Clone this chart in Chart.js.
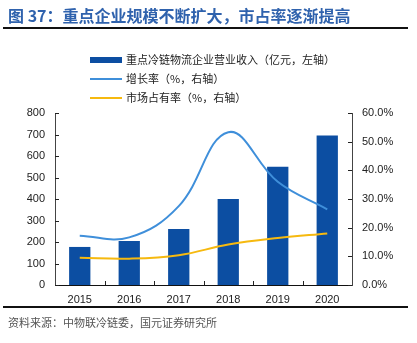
<!DOCTYPE html>
<html>
<head>
<meta charset="utf-8">
<script src="https://cdn.jsdelivr.net/npm/chart.js@4"></script>
<style>
  body { margin: 0; background: #fff; }
  #wrap { position: relative; width: 417px; height: 343px; overflow: hidden; font-family: "Noto Sans CJK SC", sans-serif; }
  #chartBox { position: absolute; left: 0; top: 0; width: 417px; height: 343px; }
  .title { position: absolute; left: 8px; top: 3px; font-size: 16px; font-weight: bold; color: #2f62ad; white-space: nowrap; }
  .rule { position: absolute; left: 3px; width: 405px; background: #111; }
  .legend { position: absolute; left: 90px; font-size: 11px; color: #222; white-space: nowrap; }
  .legend .item { position: absolute; left: 0; height: 14px; line-height: 14px; }
  .legend .sw { position: absolute; left: 0; width: 32px; }
  .legend .tx { position: absolute; left: 36px; top: -1px; }
  .source { position: absolute; left: 8px; top: 314px; font-size: 11px; color: #555; white-space: nowrap; }
</style>
</head>
<body>
<div id="wrap">
  <div id="chartBox"><canvas id="c" width="417" height="343"></canvas></div>
  <div class="title">图 37：重点企业规模不断扩大，市占率逐渐提高</div>
  <div class="rule" style="top:27px;height:2px"></div>
  <div class="legend" id="legend"></div>
  <div class="rule" style="top:306px;height:2px"></div>
  <div class="source">资料来源：中物联冷链委，国元证券研究所</div>
</div>
<script>
const years = ['2015', '2016', '2017', '2018', '2019', '2020'];
const revenue = [177, 205, 260, 400, 550, 695];          // 亿元, left axis
const growthRate = [17.2, 16.6, 27.5, 53.3, 36.0, 26.4];  // %, right axis
const marketShare = [9.5, 9.2, 10.4, 14.1, 16.4, 18.0];   // %, right axis
const seriesNames = ['重点冷链物流企业营业收入（亿元，左轴）', '增长率（%，右轴）', '市场占有率（%，右轴）'];

const barColor = '#0c4ea2';
const growthColor = '#3f8fda';
const shareColor = '#f6b90f';

// legend stacked vertically, like the original
const legend = document.getElementById('legend');
const legendRows = [
  { name: seriesNames[0], color: barColor, h: 6, top: 53 },
  { name: seriesNames[1], color: growthColor, h: 2, top: 72 },
  { name: seriesNames[2], color: shareColor, h: 2, top: 91 }
];
legendRows.forEach(r => {
  const it = document.createElement('div');
  it.className = 'item';
  it.style.top = r.top + 'px';
  it.innerHTML = '<div class="sw" style="background:' + r.color + ';height:' + r.h + 'px;top:' + (7 - r.h / 2) + 'px"></div><div class="tx">' + r.name + '</div>';
  legend.appendChild(it);
});

// small ticks pointing into the plot
const innerTicks = {
  id: 'innerTicks',
  afterDraw(chart) {
    const ctx = chart.ctx;
    const { y, y1, x } = chart.scales;
    ctx.save();
    ctx.strokeStyle = '#222';
    ctx.lineWidth = 1;
    ctx.beginPath();
    y.ticks.forEach(t => {
      const py = Math.round(y.getPixelForValue(t.value)) + 0.5;
      ctx.moveTo(y.right, py); ctx.lineTo(y.right + 4, py);
    });
    y1.ticks.forEach(t => {
      const py = Math.round(y1.getPixelForValue(t.value)) + 0.5;
      ctx.moveTo(y1.left, py); ctx.lineTo(y1.left - 4, py);
    });
    for (let i = 0; i < years.length - 1; i++) {
      const px = Math.round((x.getPixelForValue(i) + x.getPixelForValue(i + 1)) / 2) + 0.5;
      ctx.moveTo(px, x.top); ctx.lineTo(px, x.top - 4);
    }
    ctx.stroke();
    ctx.restore();
  }
};

const tickFont = { family: '"Liberation Sans", Arial, sans-serif', size: 11 };

new Chart(document.getElementById('c'), {
  data: {
    labels: years,
    datasets: [
      {
        type: 'line',
        label: seriesNames[1],
        data: growthRate,
        yAxisID: 'y1',
        borderColor: growthColor,
        borderWidth: 2,
        pointRadius: 0,
        tension: 0.4,
        order: 1
      },
      {
        type: 'line',
        label: seriesNames[2],
        data: marketShare,
        yAxisID: 'y1',
        borderColor: shareColor,
        borderWidth: 2,
        pointRadius: 0,
        tension: 0.4,
        order: 0
      },
      {
        type: 'bar',
        label: seriesNames[0],
        data: revenue,
        yAxisID: 'y',
        backgroundColor: barColor,
        barPercentage: 0.5,
        categoryPercentage: 0.86,
        order: 2
      }
    ]
  },
  options: {
    responsive: false,
    animation: false,
    layout: { padding: { top: 113, left: 0, right: 0, bottom: 0 } },
    plugins: { legend: { display: false }, tooltip: { enabled: false } },
    scales: {
      x: {
        offset: true,
        grid: { display: false, drawTicks: false },
        border: { color: '#111', width: 1 },
        ticks: { color: '#222', font: tickFont, padding: 8, maxRotation: 0 },
        afterFit: s => { s.height = 58; }
      },
      y: {
        position: 'left',
        min: 0, max: 800,
        grid: { display: false, drawTicks: false },
        border: { color: '#444', width: 1 },
        ticks: { stepSize: 100, color: '#222', font: tickFont, padding: 10 },
        afterFit: s => { s.width = 55; }
      },
      y1: {
        position: 'right',
        min: 0, max: 60,
        grid: { display: false, drawTicks: false },
        border: { color: '#444', width: 1 },
        ticks: {
          stepSize: 10, color: '#222', font: tickFont, padding: 10,
          callback: v => v.toFixed(1) + '%'
        },
        afterFit: s => { s.width = 65; }
      }
    }
  },
  plugins: [innerTicks]
});
</script>
</body>
</html>
